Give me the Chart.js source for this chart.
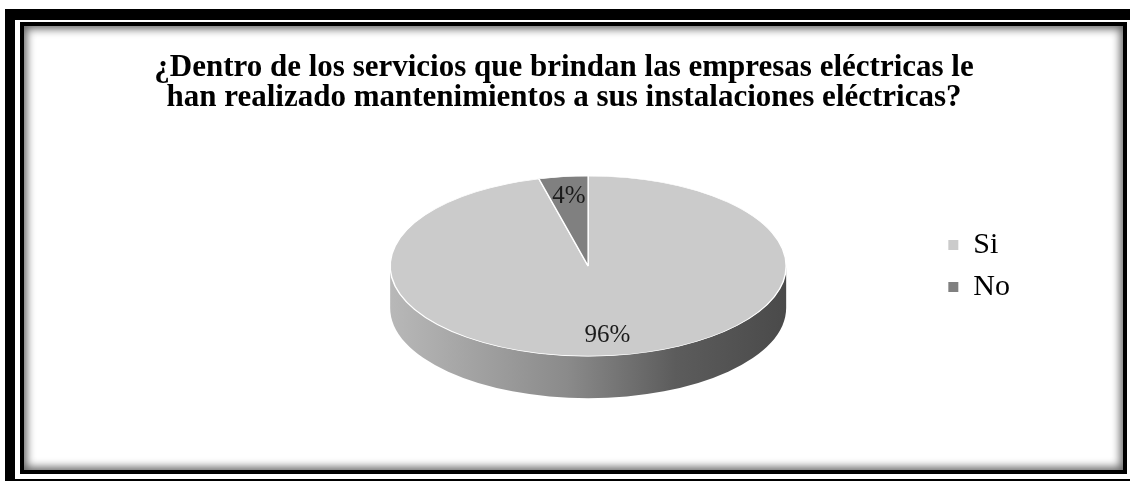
<!DOCTYPE html>
<html lang="es">
<head>
<meta charset="utf-8">
<title>Mantenimiento de instalaciones eléctricas</title>
<script src="https://cdn.jsdelivr.net/npm/chart.js@4.4.1/dist/chart.umd.min.js"></script>
<style>
  html, body { margin: 0; padding: 0; background: #fff; }
  body { position: relative; width: 1130px; height: 482px; overflow: hidden; }
  /* double frame: heavy outer border, thin inner one with a soft inner shadow */
  .marco {
    position: absolute; left: 5px; top: 9px; width: 1130px; height: 472px;
    box-sizing: border-box; background: #fff;
    border-style: solid; border-color: #000;
    border-width: 11px 2px 2px 10px;
  }
  .panel {
    position: absolute; left: 20px; top: 22px; width: 1107px; height: 452px;
    box-sizing: border-box; background: #fff;
    border: 4px solid #000;
    box-shadow: inset 0 0 9px 3px rgba(0, 0, 0, 0.6);
  }
  #grafico { position: absolute; left: 0; top: 0; z-index: 2; }
</style>
</head>
<body>
<div class="marco"></div>
<div class="panel"></div>
<canvas id="grafico" width="1130" height="482"></canvas>
<script>
const titulo = [
  '¿Dentro de los servicios que brindan las empresas eléctricas le',
  'han realizado mantenimientos a sus instalaciones eléctricas?'
];
const categorias = ['Si', 'No'];
const porcentajes = [96, 4];
const colores = ['#cbcbcb', '#808080'];

const APLASTE = 0.455;   // vertical squash of the pie disc
const GROSOR = 42;       // height of the disc's side wall
const FUENTE = 'Liberation Serif, Times New Roman, serif';

// empty box at the left of the plot so the pie sits a bit right of the title centre
const hueco = {
  id: 'hueco',
  beforeInit(chart) {
    Chart.layouts.addBox(chart, {
      position: 'left',
      weight: 5,
      fullSize: false,
      options: {},
      update(maxW, maxH) { this.width = 132; this.height = maxH; },
      isHorizontal() { return false; },
      draw() {}
    });
  }
};

// fake 3D: draw the side wall, squash the arcs, then put the % labels on top
const pastel3d = {
  id: 'pastel3d',
  beforeDatasetsDraw(chart) {
    const ctx = chart.ctx;
    const arcos = chart.getDatasetMeta(0).data;
    const {x, y, outerRadius: r} = arcos[0];
    const ry = r * APLASTE;

    const pared = ctx.createLinearGradient(x - r, 0, x + r, 0);
    pared.addColorStop(0, '#b8b8b8');
    pared.addColorStop(0.45, '#8a8a8a');
    pared.addColorStop(0.72, '#5c5c5c');
    pared.addColorStop(1, '#4a4a4a');

    ctx.save();
    ctx.fillStyle = pared;
    arcos.forEach((a) => {
      // only the front half of the rim (0..PI) can be seen
      for (let k = -1; k <= 1; k++) {
        const lo = Math.max(a.startAngle, 2 * Math.PI * k);
        const hi = Math.min(a.endAngle, 2 * Math.PI * k + Math.PI);
        if (hi <= lo) continue;
        ctx.beginPath();
        ctx.ellipse(x, y, r, ry, 0, lo, hi);
        ctx.ellipse(x, y + GROSOR, r, ry, 0, hi, lo, true);
        ctx.closePath();
        ctx.fill();
      }
    });
    ctx.restore();

    ctx.save();
    ctx.translate(x, y);
    ctx.scale(1, APLASTE);
    ctx.translate(-x, -y);
  },
  afterDatasetsDraw(chart) {
    const ctx = chart.ctx;
    ctx.restore();

    const arcos = chart.getDatasetMeta(0).data;
    ctx.save();
    ctx.font = '25px ' + FUENTE;
    ctx.fillStyle = '#1a1a1a';
    ctx.textAlign = 'center';
    ctx.textBaseline = 'middle';
    arcos.forEach((a, i) => {
      const medio = (a.startAngle + a.endAngle) / 2;
      const d = a.outerRadius * 0.78;
      ctx.fillText(porcentajes[i] + '%', a.x + Math.cos(medio) * d, a.y + Math.sin(medio) * d * APLASTE);
    });
    ctx.restore();
  }
};

new Chart(document.getElementById('grafico'), {
  type: 'pie',
  data: {
    labels: categorias,
    datasets: [{
      data: porcentajes,
      backgroundColor: colores,
      borderColor: '#ffffff',
      borderWidth: 1.5,
      radius: 198,
      clip: false,
      hoverOffset: 0
    }]
  },
  options: {
    responsive: false,
    animation: false,
    events: [],
    layout: { padding: { left: 108, right: 110, top: 0, bottom: 83 } },
    plugins: {
      title: {
        display: true,
        text: titulo,
        color: '#000',
        font: { family: FUENTE, size: 31, weight: 'bold', lineHeight: 0.97 },
        padding: { top: 53, bottom: 20 }
      },
      legend: {
        position: 'right',
        fullSize: false,
        labels: {
          boxWidth: 10,
          boxHeight: 10,
          padding: 12,
          color: '#111',
          font: { family: FUENTE, size: 30 },
          generateLabels: () => categorias.map((c, i) => ({
            text: c, fillStyle: colores[i], strokeStyle: colores[i],
            lineWidth: 0, hidden: false, index: i
          }))
        }
      },
      tooltip: { enabled: false }
    }
  },
  plugins: [hueco, pastel3d]
});
</script>
</body>
</html>
